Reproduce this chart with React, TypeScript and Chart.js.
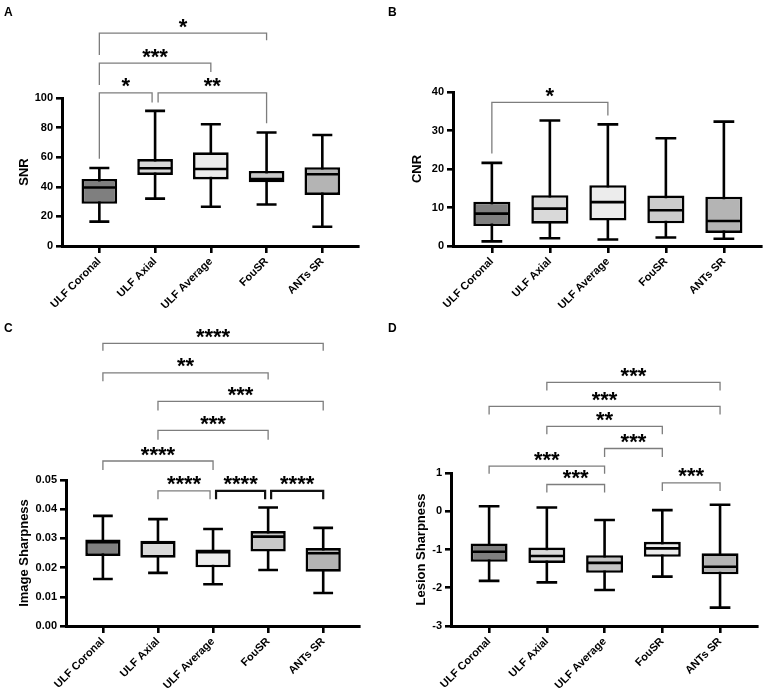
import React, { useEffect, useRef } from "react";
import { Chart, registerables } from "chart.js";

Chart.register(...registerables);

const FONT = "'Liberation Sans', Arial, Helvetica, sans-serif";

const CATEGORIES = ["ULF Coronal", "ULF Axial", "ULF Average", "FouSR", "ANTs SR"];

// ---------- Panel A: SNR ----------
const SNR_MIN = [16.5, 32, 26.5, 28, 13];
const SNR_Q1 = [28.5, 48, 45, 43, 34.5];
const SNR_MED = [39.5, 52.5, 52, 45.3, 48.5];
const SNR_Q3 = [45.3, 58.7, 63.3, 50.7, 53.2];
const SNR_MAX = [52.7, 91.3, 82.3, 76.7, 75];
const SNR_TICKS = [0, 20, 40, 60, 80, 100];
// [from, to, label, bracket level, left leg end, right leg end]
const SNR_BRACKETS: [number, number, string, number, number, number][] = [
  [0, 3, "*", 143.9, 129, 139],
  [0, 2, "***", 123.6, 108.8, 117.6],
  [0, 1, "*", 103.4, 59, 97],
  [1, 3, "**", 103.4, 97, 83],
];

// ---------- Panel B: CNR ----------
const CNR_MIN = [1.2, 2.0, 1.7, 2.2, 1.9];
const CNR_Q1 = [5.2, 5.8, 6.6, 5.9, 3.4];
const CNR_MED = [8.4, 9.7, 11.4, 9.3, 6.5];
const CNR_Q3 = [11.5, 13.2, 15.8, 13.1, 12.8];
const CNR_MAX = [21.6, 32.6, 31.6, 28, 32.3];
const CNR_TICKS = [0, 10, 20, 30, 40];
const CNR_BRACKETS: [number, number, string, number, number, number][] = [
  [0, 2, "*", 37.3, 24, 33.9],
];

// ---------- Panel C: Image Sharpness ----------
const IS_MIN = [0.0161, 0.0182, 0.0143, 0.0192, 0.0113];
const IS_Q1 = [0.024, 0.0234, 0.0201, 0.0255, 0.0186];
const IS_MED = [0.0287, 0.0285, 0.0253, 0.0306, 0.0249];
const IS_Q3 = [0.0296, 0.0292, 0.0262, 0.0325, 0.0267];
const IS_MAX = [0.0377, 0.0366, 0.0332, 0.0406, 0.0336];
const IS_TICKS = [0, 0.01, 0.02, 0.03, 0.04, 0.05];
const IS_BRACKETS: [number, number, string, number, number, number][] = [
  [0, 4, "****", 0.0968, 0.0943, 0.0943],
  [0, 3, "**", 0.0867, 0.0838, 0.0844],
  [1, 4, "***", 0.0769, 0.0738, 0.0738],
  [1, 3, "***", 0.067, 0.0638, 0.0638],
  [0, 2, "****", 0.0565, 0.0534, 0.0534],
  [1, 2, "****", 0.0463, 0.0434, 0.0434],
  [2, 3, "****", 0.0463, 0.0434, 0.0434],
  [3, 4, "****", 0.0463, 0.0434, 0.0434],
];

// ---------- Panel D: Lesion Sharpness ----------
const LS_MIN = [-1.82, -1.86, -2.06, -1.71, -2.52];
const LS_Q1 = [-1.32, -1.35, -1.61, -1.19, -1.65];
const LS_MED = [-1.06, -1.17, -1.35, -0.97, -1.45];
const LS_Q3 = [-0.84, -0.95, -1.15, -0.8, -1.1];
const LS_MAX = [0.13, 0.1, -0.23, 0.03, 0.17];
const LS_TICKS = [-3, -2, -1, 0, 1];
const LS_BRACKETS: [number, number, string, number, number, number][] = [
  [1, 4, "***", 3.37, 3.16, 3.16],
  [0, 4, "***", 2.74, 2.53, 2.53],
  [1, 3, "**", 2.22, 2.01, 2.01],
  [2, 3, "***", 1.64, 1.42, 1.42],
  [0, 2, "***", 1.18, 0.98, 0.98],
  [1, 2, "***", 0.7, 0.49, 0.49],
  [3, 4, "***", 0.74, 0.53, 0.53],
];

type Stats = { min: number[]; q1: number[]; med: number[]; q3: number[]; max: number[] };
type Cfg = {
  letter: string;
  title: string;
  ticks: number[];
  decimals: number;
  stats: Stats;
  brackets: [number, number, string, number, number, number][];
  heavy: number[];
  fills: string[];
  box: { left: number; top: number; w: number; h: number };
  area: { left: number; right: number; top: number; bottom: number };
  xRange: [number, number];
  titleX: number;
  letterPos: { left: number; top: number };
};

const PANELS: Cfg[] = [
  {
    letter: "A",
    title: "SNR",
    ticks: SNR_TICKS,
    decimals: 0,
    stats: { min: SNR_MIN, q1: SNR_Q1, med: SNR_MED, q3: SNR_Q3, max: SNR_MAX },
    brackets: SNR_BRACKETS,
    heavy: [],
    fills: ["#7f7f7f", "#d9d9d9", "#ececec", "#c9c9c9", "#b4b4b4"],
    box: { left: 0, top: 0, w: 383, h: 318 },
    area: { left: 62, right: 358, top: 98, bottom: 246 },
    xRange: [-0.67, 4.64],
    titleX: 24,
    letterPos: { left: 4, top: 6 },
  },
  {
    letter: "B",
    title: "CNR",
    ticks: CNR_TICKS,
    decimals: 0,
    stats: { min: CNR_MIN, q1: CNR_Q1, med: CNR_MED, q3: CNR_Q3, max: CNR_MAX },
    brackets: CNR_BRACKETS,
    heavy: [],
    fills: ["#7f7f7f", "#d9d9d9", "#ececec", "#cccccc", "#b4b4b4"],
    box: { left: 384, top: 0, w: 383, h: 318 },
    area: { left: 69, right: 377, top: 92, bottom: 246 },
    xRange: [-0.67, 4.64],
    titleX: 33,
    letterPos: { left: 388, top: 6 },
  },
  {
    letter: "C",
    title: "Image Sharpness",
    ticks: IS_TICKS,
    decimals: 2,
    stats: { min: IS_MIN, q1: IS_Q1, med: IS_MED, q3: IS_Q3, max: IS_MAX },
    brackets: IS_BRACKETS,
    heavy: [6, 7],
    fills: ["#7f7f7f", "#d9d9d9", "#ececec", "#c9c9c9", "#b4b4b4"],
    box: { left: 0, top: 318, w: 383, h: 379 },
    area: { left: 66, right: 359, top: 162, bottom: 308 },
    xRange: [-0.67, 4.65],
    titleX: 24,
    letterPos: { left: 4, top: 322 },
  },
  {
    letter: "D",
    title: "Lesion Sharpness",
    ticks: LS_TICKS,
    decimals: 0,
    stats: { min: LS_MIN, q1: LS_Q1, med: LS_MED, q3: LS_Q3, max: LS_MAX },
    brackets: LS_BRACKETS,
    heavy: [],
    fills: ["#7f7f7f", "#d9d9d9", "#c6c6c6", "#ececec", "#b4b4b4"],
    box: { left: 384, top: 318, w: 383, h: 379 },
    area: { left: 67, right: 373, top: 155, bottom: 308 },
    xRange: [-0.66, 4.64],
    titleX: 37,
    letterPos: { left: 388, top: 322 },
  },
];

function makePlugin(cfg: Cfg) {
  return {
    id: "boxplot" + cfg.letter,
    beforeDatasetsDraw(chart: any) {
      const { ctx } = chart;
      const xs = chart.scales.x;
      const ys = chart.scales.y;
      const meta = chart.getDatasetMeta(0);
      ctx.save();
      ctx.strokeStyle = "#000";
      ctx.lineWidth = 2.6;
      ctx.lineCap = "butt";
      cfg.stats.min.forEach((_, i) => {
        const el = meta.data[i];
        const x = xs.getPixelForValue(i);
        const cap = (el.width * 0.56) / 2;
        const yMin = ys.getPixelForValue(cfg.stats.min[i]);
        const yMax = ys.getPixelForValue(cfg.stats.max[i]);
        ctx.beginPath();
        ctx.moveTo(x, yMax);
        ctx.lineTo(x, yMin);
        ctx.moveTo(x - cap, yMax);
        ctx.lineTo(x + cap, yMax);
        ctx.moveTo(x - cap, yMin);
        ctx.lineTo(x + cap, yMin);
        ctx.stroke();
      });
      ctx.restore();
    },
    afterDatasetsDraw(chart: any) {
      const { ctx } = chart;
      const xs = chart.scales.x;
      const ys = chart.scales.y;
      const meta = chart.getDatasetMeta(0);
      ctx.save();
      ctx.strokeStyle = "#000";
      ctx.lineWidth = 2.6;
      cfg.stats.med.forEach((m, i) => {
        const el = meta.data[i];
        const x = xs.getPixelForValue(i);
        const half = el.width / 2;
        const y = ys.getPixelForValue(m);
        ctx.beginPath();
        ctx.moveTo(x - half + 1, y);
        ctx.lineTo(x + half - 1, y);
        ctx.stroke();
      });
      ctx.restore();
    },
    afterDraw(chart: any) {
      const { ctx } = chart;
      const xs = chart.scales.x;
      const ys = chart.scales.y;
      ctx.save();
      cfg.brackets.forEach((b, idx) => {
        const [from, to, label, level, leftEnd, rightEnd] = b;
        const y = ys.getPixelForValue(level);
        let x1 = xs.getPixelForValue(from);
        let x2 = xs.getPixelForValue(to);
        cfg.brackets.forEach((o, j) => {
          if (j === idx) return;
          const oy = ys.getPixelForValue(o[3]);
          if (Math.abs(oy - y) > 3) return;
          if (o[1] === from) x1 += 3;
          if (o[0] === to) x2 -= 3;
        });
        const yl = ys.getPixelForValue(leftEnd);
        const yr = ys.getPixelForValue(rightEnd);
        const heavy = cfg.heavy.indexOf(idx) >= 0;
        ctx.strokeStyle = heavy ? "#111" : "#7d7d7d";
        ctx.lineWidth = heavy ? 2.2 : 1.3;
        ctx.beginPath();
        ctx.moveTo(x1, yl);
        ctx.lineTo(x1, y);
        ctx.lineTo(x2, y);
        ctx.lineTo(x2, yr);
        ctx.stroke();
        ctx.font = `bold 22px ${FONT}`;
        ctx.fillStyle = "#000";
        ctx.textAlign = "center";
        ctx.textBaseline = "alphabetic";
        const m = ctx.measureText(label);
        const asc = m.actualBoundingBoxAscent || 15;
        const desc = m.actualBoundingBoxDescent || -8;
        const cy = y - 10;
        ctx.fillText(label, (x1 + x2) / 2, cy + (asc - desc) / 2);
      });
      ctx.restore();
    },
  };
}

function Panel({ cfg }: { cfg: Cfg }) {
  const ref = useRef<HTMLCanvasElement>(null);
  useEffect(() => {
    const canvas = ref.current;
    if (!canvas) return;
    const { area, box } = cfg;
    const tickFont = { family: FONT, size: 11, weight: "bold" as const };
    const chart = new Chart(canvas, {
      type: "bar",
      data: {
        datasets: [
          {
            data: CATEGORIES.map((_, i) => ({ x: i, y: [cfg.stats.q1[i], cfg.stats.q3[i]] })) as any,
            backgroundColor: cfg.fills,
            borderColor: "#000",
            borderWidth: 2.6,
            borderSkipped: false,
            barPercentage: 0.64,
            categoryPercentage: 1,
          },
        ],
      },
      options: {
        animation: false,
        responsive: false,
        maintainAspectRatio: false,
        events: [],
        layout: {
          padding: { top: area.top, right: box.w - area.right, left: 0, bottom: 0 },
        },
        plugins: {
          legend: { display: false },
          tooltip: { enabled: false },
        },
        scales: {
          x: {
            type: "linear",
            offset: false,
            min: cfg.xRange[0],
            max: cfg.xRange[1],
            afterBuildTicks: (s: any) => {
              s.ticks = CATEGORIES.map((_, i) => ({ value: i }));
            },
            afterFit: (s: any) => {
              s.height = box.h - area.bottom;
              s.paddingLeft = 0;
              s.paddingRight = 0;
            },
            ticks: {
              autoSkip: false,
              minRotation: 45,
              maxRotation: 45,
              color: "#000",
              font: tickFont,
              padding: 2,
              callback: (v: any) => CATEGORIES[Math.round(Number(v))] ?? "",
            },
            grid: {
              offset: false,
              drawOnChartArea: false,
              drawTicks: true,
              tickLength: 7,
              lineWidth: 2.6,
              color: "#000",
            },
            border: { display: true, width: 3, color: "#000" },
          },
          y: {
            type: "linear",
            min: cfg.ticks[0],
            max: cfg.ticks[cfg.ticks.length - 1],
            afterBuildTicks: (s: any) => {
              s.ticks = cfg.ticks.map((v) => ({ value: v }));
            },
            afterFit: (s: any) => {
              s.width = area.left;
              s.paddingTop = 0;
              s.paddingBottom = 0;
            },
            ticks: {
              color: "#000",
              font: tickFont,
              padding: 3,
              callback: (v: any) => Number(v).toFixed(cfg.decimals),
            },
            grid: {
              drawOnChartArea: false,
              drawTicks: true,
              tickLength: 6,
              lineWidth: 2.6,
              color: "#000",
            },
            border: { display: true, width: 3, color: "#000" },
            title: {
              display: true,
              text: cfg.title,
              color: "#000",
              font: { family: FONT, size: 13, weight: "bold" },
              padding: { top: cfg.titleX - 7.8, bottom: 0 },
            },
          },
        },
      } as any,
      plugins: [makePlugin(cfg)],
    });
    return () => chart.destroy();
  }, [cfg]);
  return (
    <canvas
      ref={ref}
      width={cfg.box.w}
      height={cfg.box.h}
      style={{
        position: "absolute",
        left: cfg.box.left,
        top: cfg.box.top,
        width: cfg.box.w,
        height: cfg.box.h,
      }}
    />
  );
}

export default function App() {
  return (
    <div
      style={{
        position: "absolute",
        left: 0,
        top: 0,
        width: 767,
        height: 697,
        background: "#fff",
        overflow: "hidden",
      }}
    >
      {PANELS.map((p) => (
        <React.Fragment key={p.letter}>
          <Panel cfg={p} />
          <div
            style={{
              position: "absolute",
              left: p.letterPos.left,
              top: p.letterPos.top,
              fontFamily: FONT,
              fontWeight: "bold",
              fontSize: 12,
              lineHeight: "12px",
              color: "#000",
            }}
          >
            {p.letter}
          </div>
        </React.Fragment>
      ))}
    </div>
  );
}
